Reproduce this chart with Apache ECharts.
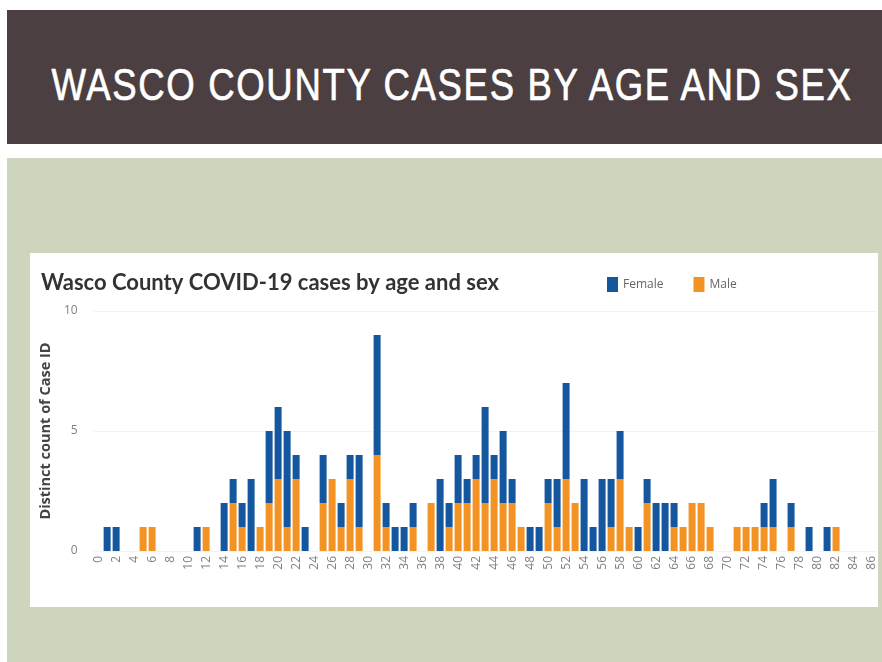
<!DOCTYPE html>
<html>
<head>
<meta charset="utf-8">
<script src="https://cdn.jsdelivr.net/npm/echarts@6/dist/echarts.min.js"></script>
<style>
  html, body { margin: 0; padding: 0; width: 882px; height: 662px; background: #fff; overflow: hidden; }
  .band { position: absolute; left: 7px; top: 10px; width: 875px; height: 134px; background: #4b3f41; }
  .band h1 {
    margin: 0; position: absolute; left: 445px; top: 53px; white-space: nowrap;
    color: #fff; font-family: "Liberation Sans", sans-serif; -webkit-text-stroke: 0.7px #fff;
    font-weight: normal; font-size: 44px; letter-spacing: 2px; line-height: 44px;
    transform: translateX(-50%) scaleX(0.83); transform-origin: 50% 50%;
  }
  .green { position: absolute; left: 7px; top: 158px; width: 875px; height: 504px; background: #cdd6bd; }
  .card { position: absolute; left: 30px; top: 253px; width: 848px; height: 354px; background: #fff; overflow: hidden; }
  #chart { width: 848px; height: 354px; }
</style>
</head>
<body>
<div class="band"><h1>WASCO COUNTY CASES BY AGE AND SEX</h1></div>
<div class="green"></div>
<div class="card"><div id="chart"></div></div>
<script>
// ages 0..86
const ages = Array.from({ length: 87 }, (_, i) => String(i))

// case counts by age (index = age)
const female = [
  0, 1, 1, 0, 0, 0, 0, 0, 0, 0,
  0, 1, 0, 0, 2, 1, 1, 3, 0, 3,
  3, 4, 1, 1, 0, 2, 0, 1, 1, 3,
  0, 5, 1, 1, 1, 1, 0, 0, 3, 1,
  2, 1, 1, 4, 1, 3, 1, 0, 1, 1,
  1, 2, 4, 0, 3, 1, 3, 2, 2, 0,
  1, 1, 2, 2, 1, 0, 0, 0, 0, 0,
  0, 0, 0, 0, 1, 2, 0, 1, 0, 1,
  0, 1, 0, 0, 0, 0, 0
]
const male = [
  0, 0, 0, 0, 0, 1, 1, 0, 0, 0,
  0, 0, 1, 0, 0, 2, 1, 0, 1, 2,
  3, 1, 3, 0, 0, 2, 3, 1, 3, 1,
  0, 4, 1, 0, 0, 1, 0, 2, 0, 1,
  2, 2, 3, 2, 3, 2, 2, 1, 0, 0,
  2, 1, 3, 2, 0, 0, 0, 1, 3, 1,
  0, 2, 0, 0, 1, 1, 2, 2, 1, 0,
  0, 1, 1, 1, 1, 1, 0, 1, 0, 0,
  0, 0, 1, 0, 0, 0, 0
]
const yTicks = [0, 5, 10]

const chart = echarts.init(document.getElementById('chart'))

const zeroToNull = arr => arr.map(v => (v === 0 ? null : v))

chart.setOption({
  animation: false,
  backgroundColor: '#fff',
  title: {
    text: 'Wasco County COVID-19 cases by age and sex',
    left: 6,
    top: 14,
    textStyle: { fontFamily: 'Lato', fontWeight: 'bold', fontSize: 22, color: '#333' }
  },
  legend: {
    data: ['Female', 'Male'],
    left: 572,
    top: 19,
    icon: 'rect',
    itemWidth: 11,
    itemHeight: 15,
    itemGap: 30,
    textStyle: { fontFamily: 'Open Sans', fontSize: 12, color: '#666' }
  },
  grid: { left: 60, top: 58, width: 794, height: 240 },
  xAxis: {
    type: 'category',
    data: ages,
    axisLine: { show: false },
    axisTick: { show: false },
    axisLabel: {
      interval: 1,
      rotate: 90,
      margin: 5,
      color: '#808080',
      fontFamily: 'Open Sans',
      fontSize: 12
    }
  },
  yAxis: {
    type: 'value',
    min: 0,
    max: 10,
    interval: 5,
    name: 'Distinct count of Case ID',
    nameLocation: 'middle',
    nameGap: 36,
    nameTextStyle: { fontFamily: 'Open Sans', fontWeight: 'bold', fontSize: 14.5, color: '#444' },
    axisLine: { show: false },
    axisTick: { show: false },
    axisLabel: {
      margin: 16,
      color: '#808080',
      fontFamily: 'Open Sans',
      fontSize: 12,
      formatter: v => (yTicks.includes(v) ? String(v) : '')
    },
    splitLine: { lineStyle: { color: '#f3f3f3' } }
  },
  series: [
    {
      name: 'Male',
      type: 'bar',
      stack: 'sex',
      barWidth: 7,
      data: zeroToNull(male),
      itemStyle: { color: '#f39323' }
    },
    {
      name: 'Female',
      type: 'bar',
      stack: 'sex',
      barWidth: 7,
      data: zeroToNull(female),
      itemStyle: { color: '#14579e' }
    }
  ]
})
</script>
</body>
</html>
